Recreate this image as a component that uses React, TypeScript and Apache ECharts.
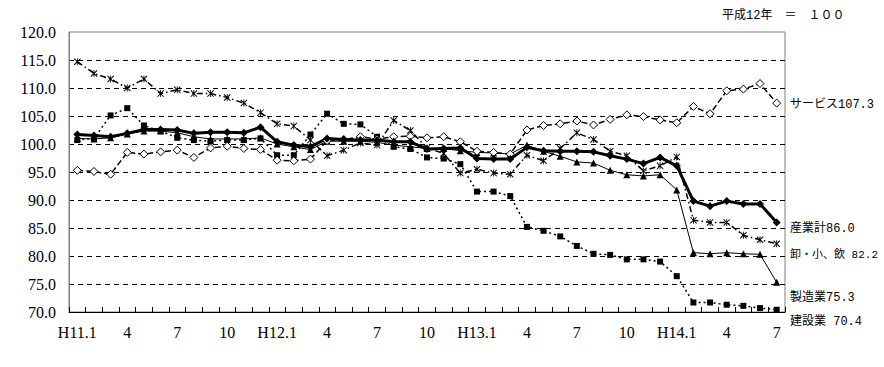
import React, { useEffect, useRef } from 'react';
import * as echarts from 'echarts';

const categories = [
  'H11.1', '2', '3', '4', '5', '6', '7', '8', '9', '10', '11', '12',
  'H12.1', '2', '3', '4', '5', '6', '7', '8', '9', '10', '11', '12',
  'H13.1', '2', '3', '4', '5', '6', '7', '8', '9', '10', '11', '12',
  'H14.1', '2', '3', '4', '5', '6', '7',
];

const totalIndustry = [
  101.7, 101.5, 101.3, 101.9, 102.6, 102.6, 102.5, 101.9, 102.1, 102.1, 102.0, 103.0,
  100.4, 99.8, 99.5, 101.0, 100.8, 100.7, 100.7, 100.4, 100.4, 99.1, 99.2, 99.3,
  97.4, 97.3, 97.3, 99.4, 98.8, 98.7, 98.7, 98.6, 97.9, 97.3, 96.5, 97.6,
  96.1, 89.8, 88.9, 89.8, 89.3, 89.3, 86.0,
];

const services = [
  95.3, 95.1, 94.6, 98.5, 98.2, 98.6, 98.9, 97.6, 99.3, 99.6, 99.2, 99.0,
  97.1, 97.0, 97.3, 100.6, 100.8, 101.3, 100.9, 101.3, 101.4, 101.1, 101.3, 100.4,
  98.7, 98.5, 98.2, 102.5, 103.3, 103.6, 104.1, 103.4, 104.4, 105.2, 104.9, 104.3,
  103.8, 106.7, 105.4, 109.5, 109.8, 110.8, 107.3,
];

const wholesaleRetail = [
  114.7, 112.6, 111.6, 110.0, 111.6, 109.0, 109.7, 109.0, 109.0, 108.3, 107.3, 105.6,
  103.6, 103.2, 100.7, 97.9, 98.9, 100.2, 99.8, 104.2, 102.4, 99.3, 98.3, 94.8,
  95.5, 94.8, 94.6, 98.0, 97.0, 99.2, 102.0, 100.8, 98.7, 97.9, 95.2, 96.1,
  97.7, 86.4, 86.0, 86.0, 83.7, 82.9, 82.2,
];

const manufacturing = [
  101.0, 100.9, 101.1, 101.8, 102.3, 102.3, 102.0, 101.3, 100.9, 100.9, 100.9, 101.1,
  100.0, 99.5, 99.0, 100.5, 100.5, 100.5, 100.3, 99.8, 99.5, 99.2, 99.2, 98.8,
  98.5, 98.4, 98.2, 99.8, 98.7, 97.8, 96.8, 96.6, 95.3, 94.5, 94.3, 94.5,
  91.8, 80.6, 80.4, 80.6, 80.4, 80.3, 75.3,
];

const construction = [
  100.7, 101.0, 105.1, 106.4, 103.3, 102.3, 101.1, 100.7, 100.5, 100.7, 100.7, 101.0,
  98.0, 98.0, 101.7, 105.4, 103.6, 103.5, 101.3, 99.5, 99.1, 97.6, 97.4, 96.4,
  91.5, 91.5, 90.7, 85.2, 84.5, 83.5, 81.8, 80.4, 80.2, 79.4, 79.4, 79.0,
  76.4, 71.7, 71.7, 71.3, 71.1, 70.7, 70.4,
];

const seriesNames = ['建設業', '製造業', '卸・小、飲', 'サービス', '産業計'];
const endLabels = ['建設業 70.4', '製造業75.3', '卸・小、飲 82.2', 'サービス107.3', '産業計86.0'];
const noteText = '平成12年　＝　１００';

const FONT = "'Liberation Serif', 'Noto Sans CJK JP', serif";
const LABEL_FONT = "'Liberation Mono', 'Noto Sans CJK JP', monospace";
const ASTERISK =
  'path://M4.4,0 L5.6,0 L5.6,10 L4.4,10 Z M0,1 L1,0 L10,9 L9,10 Z M9,0 L10,1 L1,10 L0,9 Z';

export default function App() {
  const ref = useRef<HTMLDivElement>(null);

  useEffect(() => {
    const chart = echarts.init(ref.current!, null, { renderer: 'svg' });
    const splitColors = ['rgba(0,0,0,0)', '#000', '#000', '#000', '#000', '#000', '#000', '#000', '#000', '#000', 'rgba(0,0,0,0)'];

    const labelPos = [323, 299, 256, 106, 230];
    const labelSize = [12, 12, 11, 12, 12];

    chart.setOption({
      animation: false,
      backgroundColor: '#fff',
      grid: {
        left: 69,
        right: 99,
        top: 32,
        bottom: 55,
        show: true,
        borderColor: '#808080',
        borderWidth: 1,
      },
      xAxis: {
        type: 'category',
        data: categories,
        boundaryGap: true,
        axisLine: { lineStyle: { color: '#000', width: 1 } },
        axisTick: { show: true, inside: true, interval: 0, length: 5, lineStyle: { color: '#000' } },
        axisLabel: { interval: 2, color: '#000', fontFamily: FONT, fontSize: 16, margin: 12 },
        splitLine: { show: false },
      },
      yAxis: {
        type: 'value',
        min: 70,
        max: 120,
        interval: 5,
        axisLine: { show: true, lineStyle: { color: '#808080' } },
        axisTick: { show: false },
        axisLabel: {
          color: '#000',
          fontFamily: FONT,
          fontSize: 16,
          margin: 13,
          formatter: (v: number) => v.toFixed(1),
        },
        splitLine: { show: true, lineStyle: { color: splitColors, type: [5, 4], width: 1 } },
      },
      series: [
        {
          name: seriesNames[0],
          type: 'line',
          data: construction,
          symbol: 'rect',
          symbolSize: 6,
          itemStyle: { color: '#000' },
          lineStyle: { color: '#000', width: 1.5, type: [2, 3] },
        },
        {
          name: seriesNames[1],
          type: 'line',
          data: manufacturing,
          symbol: 'triangle',
          symbolSize: 7,
          itemStyle: { color: '#000' },
          lineStyle: { color: '#000', width: 1 },
        },
        {
          name: seriesNames[2],
          type: 'line',
          data: wholesaleRetail,
          symbol: ASTERISK,
          symbolSize: 7,
          itemStyle: { color: '#000' },
          lineStyle: { color: '#000', width: 1.5, type: [6, 3, 1.5, 3] },
        },
        {
          name: seriesNames[3],
          type: 'line',
          data: services,
          symbol: 'diamond',
          symbolSize: 8,
          itemStyle: { color: '#fff', borderColor: '#000', borderWidth: 1 },
          lineStyle: { color: '#000', width: 1.5, type: [6, 3] },
        },
        {
          name: seriesNames[4],
          type: 'line',
          data: totalIndustry,
          symbol: 'diamond',
          symbolSize: 8,
          itemStyle: { color: '#000' },
          lineStyle: { color: '#000', width: 3 },
        },
      ],
      graphic: [
        ...endLabels.map((t, i) => ({
          type: 'text',
          left: 790,
          top: labelPos[i] - 7,
          style: { text: t, fill: '#000', font: `${labelSize[i]}px ${LABEL_FONT}` },
        })),
        {
          type: 'text',
          left: 722,
          top: 10,
          style: { text: noteText, fill: '#000', font: `12px ${LABEL_FONT}` },
        },
      ],
    });

    return () => chart.dispose();
  }, []);

  return (
    <div
      ref={ref}
      style={{ position: 'fixed', left: 0, top: 0, width: 884, height: 367, background: '#fff' }}
    />
  );
}
